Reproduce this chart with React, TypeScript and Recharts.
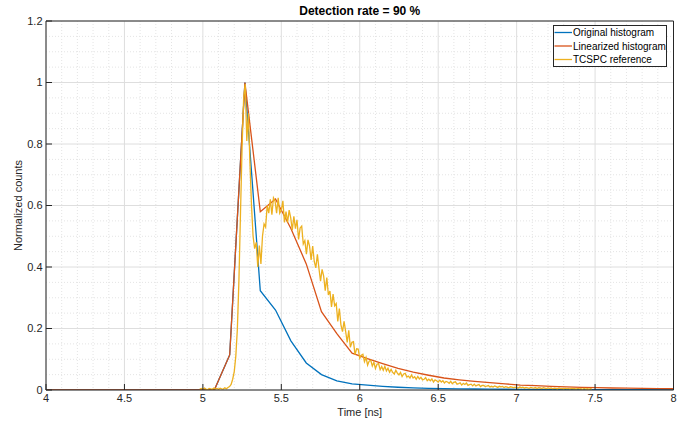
import React from 'react';
import { LineChart, Line, XAxis, YAxis, CartesianGrid, Legend } from 'recharts';

// Histogram bin centres [ns]
const binTimes = [
  4.0, 4.098, 4.195, 4.293, 4.39, 4.488, 4.585, 4.683, 4.78, 4.878,
  4.976, 5.073, 5.171, 5.268, 5.366, 5.463, 5.561, 5.659, 5.756, 5.854,
  5.951, 6.049, 6.146, 6.244, 6.341, 6.439, 6.537, 6.634, 6.732, 6.829,
  6.927, 7.024, 7.122, 7.22, 7.317, 7.415, 7.512, 7.61, 7.707, 7.805,
  7.902, 8.0,
];

const originalCounts = [
  0, 0, 0, 0, 0, 0, 0, 0, 0, 0,
  0, 0, 0.114, 1.0, 0.323, 0.26, 0.16, 0.088, 0.05, 0.03,
  0.02, 0.016, 0.012, 0.009, 0.007, 0.0055, 0.0045, 0.0038, 0.0032, 0.0028,
  0.0025, 0.0022, 0.002, 0.0018, 0.0016, 0.0015, 0.0014, 0.0013, 0.0012, 0.0011,
  0.001, 0.001,
];

const linearizedCounts = [
  0, 0, 0, 0, 0, 0, 0, 0, 0, 0,
  0, 0, 0.114, 1.0, 0.58, 0.621, 0.525, 0.41, 0.255, 0.183,
  0.12, 0.102, 0.086, 0.07, 0.058, 0.048, 0.039, 0.033, 0.028, 0.024,
  0.02, 0.016, 0.014, 0.012, 0.01, 0.0085, 0.0075, 0.0065, 0.0058, 0.005,
  0.0045, 0.004,
];

// TCSPC reference: sampled every 10 ps starting at 4.98 ns
const tcspcStart = 4.98;
const tcspcStep = 0.01;
const tcspcCounts = [
  0.003, 0.005, 0.002, 0.006, 0.003, 0.001, 0.005, 0.004, 0.002, 0.006,
  0.003, 0.005, 0.002, 0.006, 0.004, 0.003, 0.007, 0.004, 0.008, 0.011,
  0.018,
  0.035, 0.06, 0.11, 0.2, 0.36, 0.58, 0.79, 0.95, 0.995,
  0.81, 0.9, 0.74, 0.6, 0.5, 0.46, 0.48, 0.4, 0.47, 0.41, 0.5,
  0.54, 0.53, 0.6, 0.575, 0.62, 0.57, 0.625, 0.615, 0.575, 0.625, 0.575, 0.585, 0.615, 0.545, 0.58, 0.545, 0.585, 0.56, 0.52, 0.565,
  0.525, 0.553, 0.49, 0.527, 0.533, 0.475, 0.486, 0.442, 0.488, 0.468, 0.423, 0.468, 0.418, 0.397, 0.441, 0.395, 0.354, 0.392, 0.37, 0.323,
  0.366, 0.309, 0.322, 0.27, 0.312, 0.274, 0.281, 0.223, 0.265, 0.212, 0.19, 0.223, 0.191, 0.155, 0.194, 0.139, 0.155, 0.157, 0.115, 0.134,
  0.133, 0.103, 0.113, 0.116, 0.092, 0.106, 0.081, 0.094, 0.097, 0.078, 0.09, 0.07, 0.084, 0.086, 0.066, 0.076, 0.064, 0.077, 0.062, 0.071,
  0.058, 0.067, 0.057, 0.052, 0.064, 0.055, 0.049, 0.057, 0.044, 0.052, 0.054, 0.042, 0.045, 0.039, 0.049, 0.039, 0.043, 0.035, 0.044, 0.036,
  0.041, 0.033, 0.035, 0.04, 0.03, 0.035, 0.03, 0.036, 0.026, 0.033, 0.03, 0.026, 0.032, 0.026, 0.03, 0.023, 0.028, 0.026, 0.022, 0.028,
  0.0205, 0.025, 0.0265, 0.019, 0.021, 0.0235, 0.016, 0.0215, 0.018, 0.0225, 0.015, 0.0175, 0.019, 0.0135, 0.019, 0.0135, 0.016, 0.0175, 0.011, 0.0147,
  0.015, 0.011, 0.013, 0.0145, 0.01, 0.012, 0.0095, 0.013, 0.011, 0.0085, 0.012, 0.01, 0.0115, 0.008, 0.0105, 0.0095, 0.007, 0.0105, 0.009, 0.0075,
  0.0095, 0.008, 0.0065, 0.0095, 0.0075, 0.009, 0.006, 0.0085, 0.007, 0.0055, 0.0085, 0.007, 0.006, 0.008, 0.005, 0.0075, 0.0065, 0.005, 0.0075, 0.006,
  0.0045, 0.007, 0.0055, 0.0065, 0.004, 0.006, 0.005, 0.0035, 0.0065, 0.0045, 0.0055, 0.0035, 0.006, 0.004, 0.005, 0.003, 0.0055, 0.004, 0.0045, 0.003,
  0.005, 0.0035, 0.0045, 0.0025, 0.005, 0.003, 0.004, 0.0025, 0.0045, 0.003,
];

const xTicks = [4, 4.5, 5, 5.5, 6, 6.5, 7, 7.5, 8];
const yTicks = [0, 0.2, 0.4, 0.6, 0.8, 1, 1.2];
const xMinorTicks = [
  4.1, 4.2, 4.3, 4.4, 4.6, 4.7, 4.8, 4.9, 5.1, 5.2, 5.3, 5.4, 5.6, 5.7, 5.8, 5.9,
  6.1, 6.2, 6.3, 6.4, 6.6, 6.7, 6.8, 6.9, 7.1, 7.2, 7.3, 7.4, 7.6, 7.7, 7.8, 7.9,
];
const yMinorTicks = [
  0.05, 0.1, 0.15, 0.25, 0.3, 0.35, 0.45, 0.5, 0.55, 0.65, 0.7, 0.75, 0.85, 0.9, 0.95, 1.05, 1.1, 1.15,
];

const seriesNames = ['Original histogram', 'Linearized histogram', 'TCSPC reference'];
const seriesColors = ['#0072BD', '#D95319', '#EDB120'];

const originalData = binTimes.map((t, i) => ({ t, y: originalCounts[i] }));
const linearizedData = binTimes.map((t, i) => ({ t, y: linearizedCounts[i] }));
const tcspcData = tcspcCounts.map((y, i) => ({ t: +(tcspcStart + i * tcspcStep).toFixed(3), y }));

const FONT = '"Liberation Sans", Arial, Helvetica, sans-serif';
const AXIS = '#262626';

const W = 699;
const H = 425;

const renderLegend = (props: any) => {
  const payload = (props && props.payload) || [];
  const items = seriesNames.map((name, i) => {
    const p = payload.find((e: any) => e.value === name);
    return { name, color: p ? p.color : seriesColors[i] };
  });
  return (
    <svg width={114} height={42} style={{ display: 'block' }}>
      <rect x={0.5} y={0.5} width={113} height={41} fill="#ffffff" stroke={AXIS} strokeWidth={1} />
      {items.map((it, i) => (
        <g key={it.name}>
          <line x1={1.5} x2={19} y1={7.5 + i * 13.5} y2={7.5 + i * 13.5} stroke={it.color} strokeWidth={1.3} />
          <text x={20} y={11.2 + i * 13.5} fontSize={10} fontFamily={FONT} fill="#000">
            {it.name}
          </text>
        </g>
      ))}
    </svg>
  );
};

export default function App() {
  return (
    <div style={{ position: 'absolute', left: 0, top: 0, width: W, height: H, background: '#fff' }}>
      <LineChart width={W} height={H} margin={{ top: 20, right: 24.5, bottom: 0, left: 0 }}>
        <CartesianGrid
          stroke="#e4e4e4"
          strokeDasharray="1 2"
          horizontalCoordinatesGenerator={({ yAxis, offset }: any) =>
            yMinorTicks.map((v) =>
              yAxis && typeof yAxis.scale === 'function'
                ? yAxis.scale(v)
                : offset.top + offset.height * (1 - v / 1.2)
            )
          }
          verticalCoordinatesGenerator={({ xAxis, offset }: any) =>
            xMinorTicks.map((v) =>
              xAxis && typeof xAxis.scale === 'function'
                ? xAxis.scale(v)
                : offset.left + (offset.width * (v - 4)) / 4
            )
          }
        />
        <CartesianGrid stroke="#dedede" />
        <XAxis
          type="number"
          dataKey="t"
          domain={[4, 8]}
          ticks={xTicks}
          interval={0}
          allowDataOverflow
          height={35}
          tickSize={-6}
          tickMargin={10.5}
          stroke={AXIS}
          tick={{ fontSize: 11, fill: AXIS, fontFamily: FONT }}
        />
        <XAxis
          xAxisId="top"
          orientation="top"
          type="number"
          dataKey="t"
          domain={[4, 8]}
          ticks={xTicks}
          interval={0}
          allowDataOverflow
          height={1}
          tickSize={-6}
          tick={false}
          stroke={AXIS}
        />
        <YAxis
          type="number"
          domain={[0, 1.2]}
          ticks={yTicks}
          interval={0}
          allowDataOverflow
          width={46}
          tickSize={-6}
          tickMargin={9.5}
          stroke={AXIS}
          tick={{ fontSize: 11, fill: AXIS, fontFamily: FONT }}
        />
        <YAxis
          yAxisId="right"
          orientation="right"
          type="number"
          domain={[0, 1.2]}
          ticks={yTicks}
          interval={0}
          allowDataOverflow
          width={1}
          tickSize={-6}
          tick={false}
          stroke={AXIS}
        />
        <Line
          data={originalData}
          dataKey="y"
          name={seriesNames[0]}
          stroke={seriesColors[0]}
          strokeWidth={1.3}
          dot={false}
          activeDot={false}
          type="linear"
          isAnimationActive={false}
        />
        <Line
          data={linearizedData}
          dataKey="y"
          name={seriesNames[1]}
          stroke={seriesColors[1]}
          strokeWidth={1.3}
          dot={false}
          activeDot={false}
          type="linear"
          isAnimationActive={false}
        />
        <Line
          data={tcspcData}
          dataKey="y"
          name={seriesNames[2]}
          stroke={seriesColors[2]}
          strokeWidth={1.3}
          dot={false}
          activeDot={false}
          type="linear"
          isAnimationActive={false}
        />
        <Legend
          layout="horizontal"
          verticalAlign="middle"
          align="center"
          content={renderLegend}
          wrapperStyle={{ left: 553, top: 25, width: 114, height: 42 }}
        />
      </LineChart>
      <svg
        width={W}
        height={H}
        style={{ position: 'absolute', left: 0, top: 0, pointerEvents: 'none' }}
      >
        <text x={359.75} y={15} textAnchor="middle" fontSize={12} fontWeight="bold" fontFamily={FONT} fill="#000">
          Detection rate = 90 %
        </text>
        <text x={359.75} y={416} textAnchor="middle" fontSize={11} fontFamily={FONT} fill={AXIS}>
          Time [ns]
        </text>
        <text
          transform="translate(22, 205.5) rotate(-90)"
          textAnchor="middle"
          fontSize={11}
          fontFamily={FONT}
          fill={AXIS}
        >
          Normalized counts
        </text>
      </svg>
    </div>
  );
}
